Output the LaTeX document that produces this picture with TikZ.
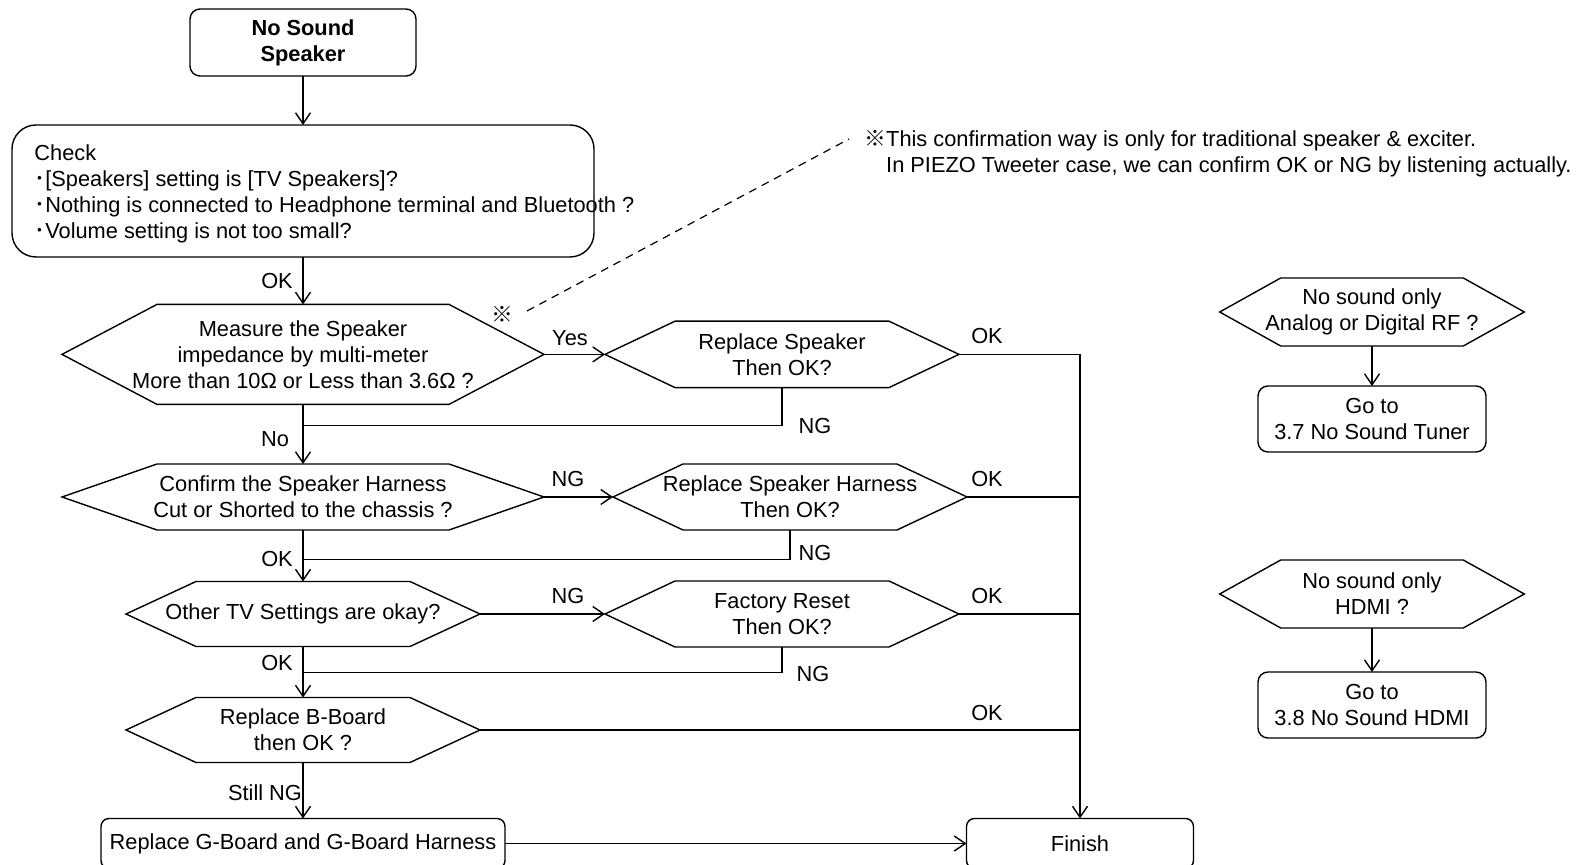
\documentclass[tikz,border=0pt]{standalone}
\usepackage{fontspec}
\setmainfont{Liberation Sans}
\newfontfamily\cjk{Noto Sans CJK JP}
\usetikzlibrary{arrows.meta}
\newcommand\hexo[2]{\draw[shapeline] ([xshift=#2]#1.north west) -- ([xshift=-#2]#1.north east) -- (#1.east) -- ([xshift=-#2]#1.south east) -- ([xshift=#2]#1.south west) -- (#1.west) -- cycle;}
\begin{document}
\begin{tikzpicture}[x=0.5pt,y=-0.5pt,
  txt/.style={font=\fontsize{10.9pt}{13pt}\selectfont},
  shapeline/.style={line width=0.7pt},
  conn/.style={line width=0.75pt},
  arr/.style={conn,-{Straight Barb[length=5.5pt,width=7.5pt,line width=0.7pt]}},
  hexn/.style={txt,inner sep=0pt,outer sep=0pt,align=center},
  rbox/.style={txt,draw,line width=0.7pt,rounded corners=#1,inner sep=0pt,outer sep=0pt,align=center},
  lbl/.style={txt,inner sep=0pt}]
\useasboundingbox (0,0) rectangle (1581,865);
% main column
\node[rbox=5pt,minimum width=113pt,minimum height=33.5pt,font=\fontsize{10.9pt}{13pt}\selectfont\bfseries] (start) at (303,42.5) {No Sound\\Speaker};
\node[rbox=12pt,minimum width=291pt,minimum height=66pt] (check) at (303,191) {};
\node[txt,anchor=west,align=left,inner sep=0pt] (checktxt) at (34,194) {Check\\{\cjk ･}[Speakers] setting is [TV Speakers]?\\{\cjk ･}Nothing is connected to Headphone terminal and Bluetooth ?\\{\cjk ･}Volume setting is not too small?};
\node[hexn,minimum width=241pt,minimum height=50pt] (measure) at (303,354.4) {Measure the Speaker\\impedance by multi-meter\\More than 10Ω or Less than 3.6Ω ?};
\hexo{measure}{47.5pt}
\node[hexn,minimum width=177pt,minimum height=33.2pt] (rspk) at (782,354.4) {Replace Speaker\\Then OK?};
\hexo{rspk}{35pt}
\node[hexn,minimum width=241pt,minimum height=33pt] (confirm) at (303,497) {Confirm the Speaker Harness\\Cut or Shorted to the chassis ?};
\hexo{confirm}{47.5pt}
\node[hexn,minimum width=177pt,minimum height=33pt] (harness) at (790,497) {Replace Speaker Harness\\Then OK?};
\hexo{harness}{35pt}
\node[hexn,minimum width=177pt,minimum height=32.5pt] (other) at (303,614) {Other TV Settings are okay?};
\hexo{other}{35pt}
\node[hexn,minimum width=177pt,minimum height=33pt] (factory) at (782,614) {Factory Reset\\Then OK?};
\hexo{factory}{35pt}
\node[hexn,minimum width=177pt,minimum height=32.5pt] (bboard) at (303,730) {Replace B-Board\\then OK ?};
\hexo{bboard}{35pt}
\node[rbox=4pt,minimum width=202pt,minimum height=25pt] (gboard) at (303,843.5) {Replace G-Board and G-Board Harness};
\node[rbox=4pt,minimum width=113.5pt,minimum height=25pt] (finish) at (1080,843.5) {Finish};
% right panel
\node[hexn,minimum width=152.3pt,minimum height=34pt] (rf) at (1372,312) {No sound only\\Analog or Digital RF ?};
\hexo{rf}{30.5pt}
\node[rbox=5pt,minimum width=114pt,minimum height=33pt] (goto1) at (1372,419) {Go to\\3.7 No Sound Tuner};
\node[hexn,minimum width=152.3pt,minimum height=34pt] (hdmi) at (1372,594) {No sound only\\HDMI ?};
\hexo{hdmi}{30.5pt}
\node[rbox=5pt,minimum width=114pt,minimum height=33pt] (goto2) at (1372,705) {Go to\\3.8 No Sound HDMI};
% note
\node[txt,anchor=west,align=left,inner sep=0pt] (note) at (864,154) {{\cjk ※}This confirmation way is only for traditional speaker \& exciter.\\\phantom{\cjk ※}In PIEZO Tweeter case, we can confirm OK or NG by listening actually.};
\node[lbl] (mark) at (502,314.5) {\cjk ※};
\coordinate (dashA) at (527,311);
\coordinate (dashB) at (849,139);
\draw[conn,line width=0.6pt,dash pattern=on 4pt off 3pt] (dashA) -- (dashB);
% junctions
\coordinate (j1) at (303,425.5);
\coordinate (j2) at (303,559.6);
\coordinate (j3) at (303,672.5);
\coordinate (r1) at (1080,354.4);
\coordinate (r2) at (1080,497);
\coordinate (r3) at (1080,614);
\coordinate (r4) at (1080,730);
% connectors
\draw[arr] (start.south) -- (check.north);
\draw[arr] (check.south) -- (measure.north);
\draw[arr] (measure.east) -- (rspk.west);
\draw[conn] (rspk.south) |- (j1);
\draw[arr] (measure.south) -- (confirm.north);
\draw[arr] (confirm.east) -- (harness.west);
\draw[conn] (harness.south) |- (j2);
\draw[arr] (confirm.south) -- (other.north);
\draw[arr] (other.east) -- (factory.west);
\draw[conn] (factory.south) |- (j3);
\draw[arr] (other.south) -- (bboard.north);
\draw[arr] (bboard.south) -- (gboard.north);
\draw[arr] (gboard.east) -- (finish.west);
\draw[conn] (rspk.east) -- (r1);
\draw[conn] (harness.east) -- (r2);
\draw[conn] (factory.east) -- (r3);
\draw[conn] (bboard.east) -- (r4);
\draw[arr] (r1) -- (finish.north);
\draw[arr] (rf.south) -- (goto1.north);
\draw[arr] (hdmi.south) -- (goto2.north);
% labels
\node[lbl] (l1) at (277,281) {OK};
\node[lbl] (l2) at (570,338) {Yes};
\node[lbl] (l3) at (987,336) {OK};
\node[lbl] (l4) at (815,426.5) {NG};
\node[lbl] (l5) at (275,439.6) {No};
\node[lbl] (l6) at (568,479) {NG};
\node[lbl] (l7) at (987,479) {OK};
\node[lbl] (l8) at (815,552.5) {NG};
\node[lbl] (l9) at (277,558.6) {OK};
\node[lbl] (l10) at (568,596) {NG};
\node[lbl] (l11) at (987,596) {OK};
\node[lbl] (l12) at (813,673.5) {NG};
\node[lbl] (l13) at (277,662.5) {OK};
\node[lbl] (l14) at (987,713) {OK};
\node[lbl] (l15) at (265,792.5) {Still NG};
\end{tikzpicture}
\end{document}
